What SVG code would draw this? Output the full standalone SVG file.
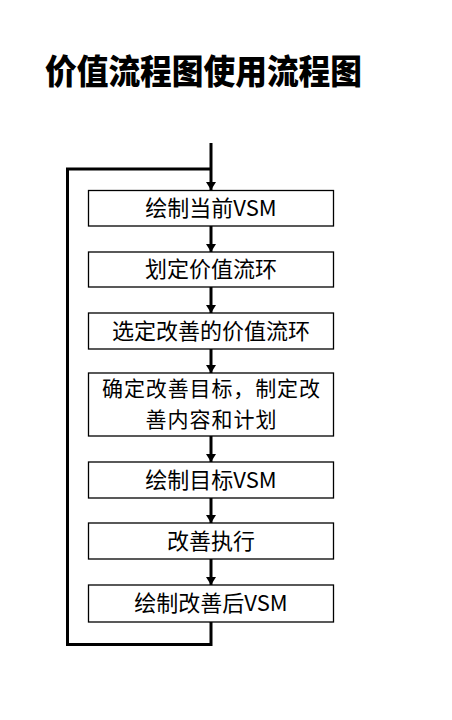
<svg xmlns="http://www.w3.org/2000/svg" width="452" height="720" viewBox="0 0 452 720">
<defs>
<marker id="ah" viewBox="0 0 8 10" refX="8" refY="5" markerWidth="8" markerHeight="10" markerUnits="userSpaceOnUse" orient="auto">
<path d="M0,0 L8,5 L0,10 Z" fill="#000"/>
</marker>
<style>
.box{fill:#fff;stroke:#000;stroke-width:1.3}
.t{font-family:"Noto Sans CJK SC","Microsoft YaHei",sans-serif;font-size:22px;fill:#000;text-anchor:middle}
.t2{font-size:21px}
.title{font-family:"Noto Sans CJK SC",sans-serif;font-size:34px;font-weight:900;fill:#000}
.c{fill:none;stroke:#000;stroke-width:3}
</style>
</defs>
<rect width="452" height="720" fill="#fff"/>
<text class="title" x="45" y="84" textLength="317" lengthAdjust="spacingAndGlyphs">价值流程图使用流程图</text>
<g id="connectors">
<path class="c" d="M211,622 V644.5 H67.5 V169 H211"/>
<line class="c" x1="211" y1="143" x2="211" y2="190" marker-end="url(#ah)"/>
<line class="c" x1="211" y1="226" x2="211" y2="252" marker-end="url(#ah)"/>
<line class="c" x1="211" y1="287" x2="211" y2="313" marker-end="url(#ah)"/>
<line class="c" x1="211" y1="349" x2="211" y2="373" marker-end="url(#ah)"/>
<line class="c" x1="211" y1="436" x2="211" y2="462" marker-end="url(#ah)"/>
<line class="c" x1="211" y1="498" x2="211" y2="523" marker-end="url(#ah)"/>
<line class="c" x1="211" y1="559" x2="211" y2="585" marker-end="url(#ah)"/>
</g>
<g id="n1"><rect class="box" x="88.5" y="190.5" width="245" height="35.5"/><text class="t" x="211" y="216">绘制当前VSM</text></g>
<g id="n2"><rect class="box" x="88.5" y="252" width="245" height="35"/><text class="t" x="211" y="277">划定价值流环</text></g>
<g id="n3"><rect class="box" x="88.5" y="313" width="245" height="36"/><text class="t" x="211" y="339">选定改善的价值流环</text></g>
<g id="n4"><rect class="box" x="88.5" y="373" width="245" height="63"/><text class="t t2" x="211" y="396" textLength="218" lengthAdjust="spacing">确定改善目标，制定改</text><text class="t t2" x="211" y="427" textLength="131" lengthAdjust="spacing">善内容和计划</text></g>
<g id="n5"><rect class="box" x="88.5" y="462" width="245" height="36"/><text class="t" x="211" y="488">绘制目标VSM</text></g>
<g id="n6"><rect class="box" x="88.5" y="523" width="245" height="36"/><text class="t" x="211" y="549">改善执行</text></g>
<g id="n7"><rect class="box" x="88.5" y="585" width="245" height="37"/><text class="t" x="211" y="611">绘制改善后VSM</text></g>
</svg>
